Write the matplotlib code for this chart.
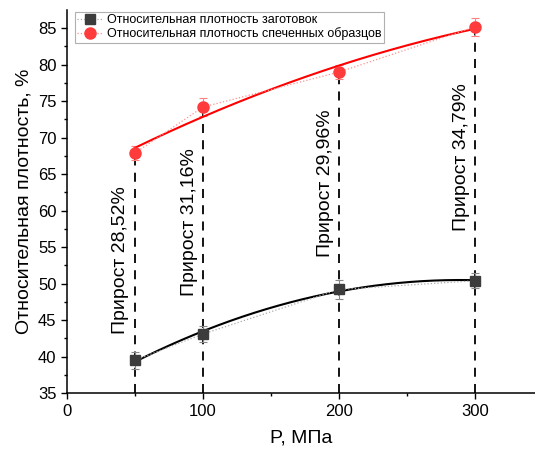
import numpy as np
import matplotlib
matplotlib.use("Agg")
import matplotlib.pyplot as plt

plt.rcParams['font.family'] = ['Liberation Sans', 'DejaVu Sans']

# data
pressure = [50, 100, 200, 300]
green_density = [39.5, 43.1, 49.2, 50.4]
green_err = [1.2, 1.1, 1.3, 1.0]
sintered_density = [67.9, 74.2, 79.0, 85.2]
sintered_err = [1.0, 1.2, 1.0, 1.2]
growth_labels = ['Прирост 28,52%', 'Прирост 31,16%', 'Прирост 29,96%', 'Прирост 34,79%']
label_y = [53.2, 58.4, 63.8, 67.3]

BLACK = '#3c3c3c'
RED = '#ff3b3b'

fig = plt.figure(figsize=(5.35, 4.55), dpi=100)
ax = fig.add_axes([0.125, 0.136, 0.875, 0.842])

# dashed guides from the axis up to each sintered point
for x, top in zip(pressure, sintered_density):
    ax.plot([x, x], [35, top], color='black', linestyle=(0, (5, 4)), linewidth=1.3, zorder=1)

# smooth fits (second order)
xs = np.linspace(50, 300, 200)
fit_g = np.polyfit(pressure, green_density, 2)
fit_s = np.polyfit(pressure, sintered_density, 2)
ax.plot(xs, np.polyval(fit_g, xs), color='black', linewidth=1.5, zorder=3)
ax.plot(xs, np.polyval(fit_s, xs), color='#ff0000', linewidth=1.5, zorder=3)

# measured points with error bars
ax.errorbar(pressure, green_density, yerr=green_err, fmt='none', ecolor='#888888',
            elinewidth=0.8, capsize=3, capthick=0.8, zorder=2)
ax.errorbar(pressure, sintered_density, yerr=sintered_err, fmt='none', ecolor='#ff8080',
            elinewidth=0.8, capsize=3, capthick=0.8, zorder=2)
ax.plot(pressure, green_density, linestyle=':', color='#aaaaaa', linewidth=0.9,
        marker='s', markersize=7, markerfacecolor=BLACK, markeredgecolor=BLACK,
        label='Относительная плотность заготовок', zorder=4)
ax.plot(pressure, sintered_density, linestyle=':', color='#ff9090', linewidth=0.9,
        marker='o', markersize=8, markerfacecolor=RED, markeredgecolor=RED,
        label='Относительная плотность спеченных образцов', zorder=4)

for x, y, txt in zip(pressure, label_y, growth_labels):
    ax.text(x - 4, y, txt, rotation=90, ha='right', va='center', fontsize=14)

ax.set_xlim(0, 344)
ax.set_ylim(35, 87.5)
ax.set_xticks([0, 100, 200, 300])
ax.set_xticks([50, 150, 250], minor=True)
ax.set_yticks(np.arange(35, 86, 5))
ax.set_yticks(np.arange(37.5, 87.5, 5), minor=True)
ax.tick_params(which='major', direction='out', length=4, width=1, labelsize=12)
ax.tick_params(which='minor', direction='out', length=2.5, width=1)
ax.spines['top'].set_visible(False)
ax.spines['right'].set_visible(False)
ax.spines['left'].set_linewidth(1.1)
ax.spines['bottom'].set_linewidth(1.1)

ax.set_xlabel('P, МПа', fontsize=14, labelpad=8)
ax.set_ylabel('Относительная плотность, %', fontsize=14, labelpad=4)

leg = ax.legend(loc='upper left', bbox_to_anchor=(0.004, 1.012), fontsize=9,
                fancybox=False, framealpha=1, edgecolor='#b0b0b0',
                handlelength=2.0, borderpad=0.2, labelspacing=0.1, handletextpad=0.4)
leg.get_frame().set_linewidth(0.8)

fig.savefig('out.png', dpi=100)
